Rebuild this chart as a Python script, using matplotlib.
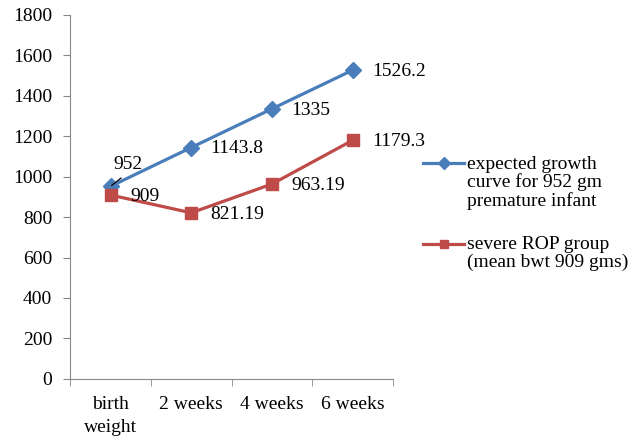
import matplotlib
matplotlib.use("Agg")
import matplotlib.pyplot as plt
from matplotlib.legend_handler import HandlerLine2D

categories = ["birth\nweight", "2 weeks", "4 weeks", "6 weeks"]
expected = [952, 1143.8, 1335, 1526.2]
severe_rop = [909, 821.19, 963.19, 1179.3]
expected_labels = ["952", "1143.8", "1335", "1526.2"]
severe_labels = ["909", "821.19", "963.19", "1179.3"]

plt.rcParams["font.family"] = ["Liberation Serif", "DejaVu Serif"]
plt.rcParams["font.size"] = 14

blue = "#4A7EBB"
red = "#BE4B48"
axis_grey = "#888888"


class FirstLineHandler(HandlerLine2D):
    # put the legend key next to the first line of a multi-line label
    def __init__(self, lines_up, **kw):
        super().__init__(**kw)
        self.lines_up = lines_up

    def create_artists(self, legend, orig_handle, xdescent, ydescent,
                       width, height, fontsize, trans):
        shift = self.lines_up * fontsize * 0.98
        return super().create_artists(legend, orig_handle, xdescent,
                                      ydescent - 2 * shift, width, height,
                                      fontsize, trans)


fig = plt.figure(figsize=(6.44, 4.36), dpi=100)
ax = fig.add_axes([0.109, 0.131, 0.501, 0.835])

x = list(range(len(categories)))
l1, = ax.plot(x, expected, color=blue, lw=2.3, marker="D", ms=8.5, mec=blue,
              label="expected growth\ncurve for 952 gm\npremature infant")
l2, = ax.plot(x, severe_rop, color=red, lw=2.3, marker="s", ms=9, mec=red,
              label="severe ROP group\n(mean bwt 909 gms)")

# value labels to the right of each point
for i, (v, s) in enumerate(zip(expected, expected_labels)):
    if i == 0:
        ax.annotate(s, xy=(i, v), xytext=(2, 16), textcoords="offset points",
                    ha="left", va="center",
                    arrowprops=dict(arrowstyle="-", color="black", lw=0.9,
                                    relpos=(0.5, 0), shrinkA=3, shrinkB=1))
    else:
        ax.annotate(s, xy=(i, v), xytext=(14, -1),
                    textcoords="offset points", ha="left", va="center")
for i, (v, s) in enumerate(zip(severe_rop, severe_labels)):
    ax.annotate(s, xy=(i, v), xytext=(14, -1),
                textcoords="offset points", ha="left", va="center")

ax.set_xlim(-0.5, 3.5)
ax.set_ylim(0, 1800)
ax.set_yticks(range(0, 1801, 200))
ax.set_xticks(x)
ax.set_xticklabels(categories, linespacing=1.5)
ax.set_xticks([-0.5, 0.5, 1.5, 2.5, 3.5], minor=True)
ax.tick_params(axis="x", which="major", length=0, pad=12)
ax.tick_params(axis="x", which="minor", length=5, color=axis_grey)
ax.tick_params(axis="y", length=5, color=axis_grey, pad=8)

for side in ["top", "right"]:
    ax.spines[side].set_visible(False)
for side in ["left", "bottom"]:
    ax.spines[side].set_color(axis_grey)

leg = fig.legend(handles=[l1, l2], loc="upper left",
                 bbox_to_anchor=(0.63, 0.683), frameon=False,
                 handlelength=2.1, handletextpad=0.15, labelspacing=1.35,
                 markerscale=0.7,
                 handler_map={l1: FirstLineHandler(1.0),
                              l2: FirstLineHandler(0.5)})
for t in leg.get_texts():
    t.set_linespacing(1.05)

fig.savefig("out.png", dpi=100)
